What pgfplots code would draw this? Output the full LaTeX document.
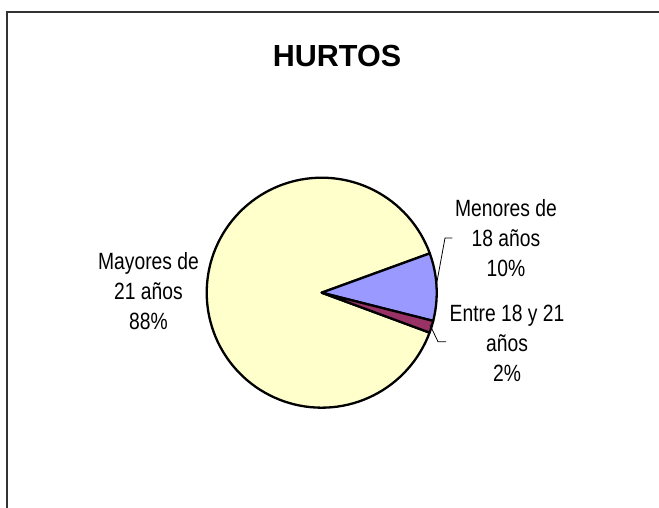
\documentclass[border=0pt]{standalone}
\usepackage{pgfplots}
\pgfplotsset{compat=1.18}
\usepackage{pgfplotstable}
\usepackage{fontspec}
\setmainfont{Liberation Sans}
\newfontfamily\narrow{Liberation Sans}[FakeStretch=0.82]
\definecolor{cMay}{HTML}{FFFFCC}
\definecolor{cMen}{HTML}{9999FF}
\definecolor{cEnt}{HTML}{993366}
\pgfplotstableread{
grupo valor
Menores 9.5
Entre 1.7
Mayores 88.8
}\pietable
\begin{document}
\begin{tikzpicture}[x=1bp,y=1bp]
\pgfplotstablegetelem{0}{valor}\of\pietable \let\vA\pgfplotsretval
\pgfplotstablegetelem{1}{valor}\of\pietable \let\vB\pgfplotsretval
\pgfplotstablegetelem{2}{valor}\of\pietable \let\vC\pgfplotsretval
\pgfmathsetmacro\aA{20}
\pgfmathsetmacro\aB{\aA-3.6*\vA}
\pgfmathsetmacro\aC{\aB-3.6*\vB}
\pgfmathsetmacro\aD{\aC-3.6*\vC}
\clip (0,0) rectangle (659,508);
\draw[line width=1.6bp, black!80] (7,-20) -- (7,496) -- (720,496);
\begin{axis}[at={(0,0)}, anchor=south west, width=659bp, height=508bp,
  scale only axis, xmin=0, xmax=659, ymin=0, ymax=508, hide axis, clip=false]
\addplot[fill=cMay, draw=black, line width=2.3bp, line join=round, domain=\aD:\aC, samples=120]
  ({321.7+115*cos(x)},{215.3+115*sin(x)}) -- (321.7,215.3) -- cycle;
\addplot[fill=cMen, draw=black, line width=2.3bp, line join=round, domain=\aB:\aA, samples=30]
  ({321.7+115*cos(x)},{215.3+115*sin(x)}) -- (321.7,215.3) -- cycle;
\addplot[fill=cEnt, draw=black, line width=2.3bp, line join=round, domain=\aC:\aB, samples=10]
  ({321.7+115*cos(x)},{215.3+115*sin(x)}) -- (321.7,215.3) -- cycle;
\draw[line width=0.8bp] (452.3,270) -- (445,270) -- (436,221);
\draw[line width=0.8bp] (430,183) -- (438,166.3) -- (446,166.3);
\node[anchor=base, font=\bfseries\fontsize{30.5bp}{36bp}\selectfont] at (337,441.3) {HURTOS};
\begin{scope}[every node/.style={anchor=base, font=\narrow\fontsize{23.5bp}{28bp}\selectfont, inner sep=0pt}]
\node at (148.5,238) {Mayores de};
\node at (148.5,208) {21 años};
\node at (148.5,178) {88\%};
\node at (506,291.3) {Menores de};
\node at (506,261.3) {18 años};
\node at (506,231) {10\%};
\node at (507,186.3) {Entre 18 y 21};
\node at (507,156.3) {años};
\node at (507,126.3) {2\%};
\end{scope}
\end{axis}
\end{tikzpicture}
\end{document}
